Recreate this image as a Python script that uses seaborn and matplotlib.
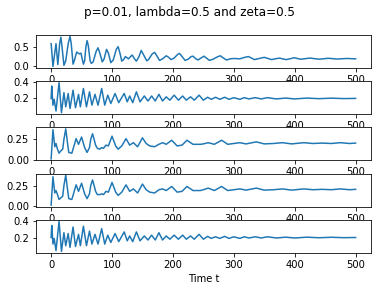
import matplotlib
matplotlib.use("Agg")
import matplotlib.pyplot as plt
import seaborn as sns

# values (peaks, troughs and a few shoulder points of each run)
t1 = [0, 3, 8, 11, 14, 16, 18, 21, 24, 28, 31, 33, 36, 38, 42, 46, 49, 51, 53, 55,
      57, 59, 61, 64, 66, 69, 74, 77, 80, 84, 87, 91, 94, 98, 102, 107, 110, 113, 116,
      119, 122, 127, 131, 133, 137, 140, 144, 148, 152, 157, 160, 166, 170, 174, 178,
      183, 189, 193, 197, 202, 208, 211, 215, 220, 225, 230, 233, 237, 241, 246, 251,
      255, 260, 266, 274, 278, 283, 288, 294, 300, 310, 318, 324, 329, 334, 342, 350,
      356, 362, 368, 375, 380, 386, 392, 399, 404, 410, 425, 440, 455, 470, 485, 500]
v1 = [0.6, 0.0, 0.6, 0.05, 0.6, 0.77, 0.5, 0.03, 0.15, 0.6, 0.79, 0.6, 0.06, 0.15,
      0.38, 0.33, 0.35, 0.2, 0.06, 0.15, 0.5, 0.68, 0.55, 0.15, 0.08, 0.12, 0.4, 0.49,
      0.35, 0.12, 0.2, 0.45, 0.35, 0.1, 0.17, 0.45, 0.52, 0.35, 0.14, 0.18, 0.26, 0.2,
      0.27, 0.3, 0.2, 0.14, 0.25, 0.42, 0.3, 0.15, 0.18, 0.33, 0.37, 0.27, 0.16, 0.2,
      0.28, 0.24, 0.18, 0.22, 0.32, 0.34, 0.26, 0.16, 0.19, 0.26, 0.27, 0.21, 0.17,
      0.22, 0.27, 0.22, 0.16, 0.19, 0.26, 0.28, 0.22, 0.17, 0.2, 0.21, 0.2, 0.24, 0.26,
      0.22, 0.18, 0.21, 0.24, 0.21, 0.18, 0.2, 0.22, 0.2, 0.18, 0.2, 0.23, 0.21, 0.19,
      0.22, 0.19, 0.215, 0.195, 0.21, 0.2]

t2 = [0, 1, 3, 5, 8, 13, 17, 21, 24, 28, 31, 36, 40, 45, 48, 53, 58, 63, 67, 72, 77,
      83, 88, 93, 98, 105, 111, 120, 125, 129, 134, 140, 146, 153, 159, 165, 171, 177,
      183, 189, 195, 202, 209, 216, 222, 229, 235, 243, 250, 257, 263, 270, 277, 285,
      292, 300, 310, 317, 325, 335, 345, 355, 370, 385, 400, 420, 440, 460, 480, 500]
v2 = [0.2, 0.35, 0.12, 0.19, 0.05, 0.39, 0.03, 0.27, 0.1, 0.26, 0.08, 0.3, 0.09, 0.25,
      0.1, 0.32, 0.1, 0.28, 0.12, 0.25, 0.12, 0.32, 0.12, 0.24, 0.14, 0.26, 0.15, 0.26,
      0.16, 0.23, 0.15, 0.28, 0.16, 0.23, 0.17, 0.23, 0.17, 0.25, 0.17, 0.22, 0.18, 0.24,
      0.18, 0.23, 0.18, 0.22, 0.18, 0.24, 0.18, 0.215, 0.19, 0.215, 0.19, 0.215, 0.19,
      0.21, 0.19, 0.21, 0.195, 0.21, 0.195, 0.21, 0.195, 0.205, 0.195, 0.205, 0.198,
      0.204, 0.199, 0.201]

t3 = [0, 3, 6, 8, 10, 13, 16, 19, 21, 24, 27, 29, 34, 41, 45, 50, 55, 59, 63, 65, 68,
      71, 73, 76, 80, 83, 86, 90, 94, 97, 100, 103, 106, 110, 116, 123, 129, 135, 142,
      150, 156, 162, 170, 177, 183, 189, 198, 207, 215, 223, 233, 245, 250, 258, 268,
      280, 290, 300, 310, 320, 337, 350, 365, 380, 395, 415, 430, 445, 460, 475, 490, 500]
v3 = [0.01, 0.37, 0.16, 0.2, 0.14, 0.08, 0.11, 0.13, 0.25, 0.38, 0.2, 0.09, 0.08, 0.26,
      0.19, 0.28, 0.15, 0.09, 0.15, 0.25, 0.32, 0.24, 0.18, 0.14, 0.13, 0.15, 0.14, 0.18,
      0.17, 0.23, 0.29, 0.23, 0.17, 0.13, 0.17, 0.26, 0.18, 0.21, 0.16, 0.27, 0.2, 0.17,
      0.16, 0.19, 0.21, 0.19, 0.24, 0.17, 0.18, 0.24, 0.19, 0.19, 0.195, 0.21, 0.19,
      0.24, 0.19, 0.2, 0.21, 0.195, 0.22, 0.195, 0.2, 0.21, 0.195, 0.21, 0.2, 0.205, 0.2,
      0.21, 0.2, 0.205]

t4 = t3
v4 = [0.01, 0.36, 0.16, 0.19, 0.15, 0.08, 0.1, 0.12, 0.25, 0.38, 0.2, 0.09, 0.08, 0.26,
      0.18, 0.28, 0.15, 0.09, 0.15, 0.25, 0.32, 0.24, 0.18, 0.14, 0.14, 0.15, 0.14, 0.18,
      0.17, 0.23, 0.29, 0.23, 0.17, 0.13, 0.17, 0.26, 0.18, 0.21, 0.16, 0.27, 0.2, 0.17,
      0.16, 0.2, 0.21, 0.19, 0.24, 0.17, 0.18, 0.24, 0.19, 0.19, 0.2, 0.22, 0.19, 0.24,
      0.19, 0.2, 0.21, 0.195, 0.22, 0.195, 0.2, 0.21, 0.195, 0.21, 0.2, 0.205, 0.2, 0.21,
      0.2, 0.205]

t5 = t2
v5 = [0.2, 0.35, 0.12, 0.19, 0.04, 0.4, 0.03, 0.26, 0.1, 0.25, 0.08, 0.33, 0.09, 0.24,
      0.1, 0.34, 0.1, 0.28, 0.12, 0.24, 0.12, 0.31, 0.12, 0.23, 0.14, 0.25, 0.15, 0.27,
      0.16, 0.22, 0.15, 0.27, 0.16, 0.22, 0.17, 0.23, 0.17, 0.26, 0.17, 0.22, 0.18, 0.23,
      0.18, 0.23, 0.18, 0.22, 0.18, 0.24, 0.18, 0.215, 0.19, 0.21, 0.19, 0.215, 0.19,
      0.21, 0.19, 0.21, 0.195, 0.21, 0.195, 0.21, 0.195, 0.205, 0.195, 0.205, 0.198,
      0.204, 0.199, 0.201]

series = [(t1, v1), (t2, v2), (t3, v3), (t4, v4), (t5, v5)]
yticks = [[0.0, 0.5], [0.2, 0.4], [0.0, 0.25], [0.0, 0.25], [0.2, 0.4]]
xticks = [0, 100, 200, 300, 400, 500]

fig, axes = plt.subplots(5, 1, figsize=(378 / 72, 291 / 72), dpi=72)
fig.subplots_adjust(left=0.095, right=0.981, top=0.88, bottom=0.131, hspace=0.4)

for ax, (t, v), yt in zip(axes, series, yticks):
    sns.lineplot(x=t, y=v, ax=ax, color="#1f77b4", linewidth=1.5)
    ax.set_xticks(xticks)
    ax.set_yticks(yt)

axes[-1].set_xlabel("Time t")
fig.suptitle("p=0.01, lambda=0.5 and zeta=0.5")

fig.savefig("out.png", dpi=72)
